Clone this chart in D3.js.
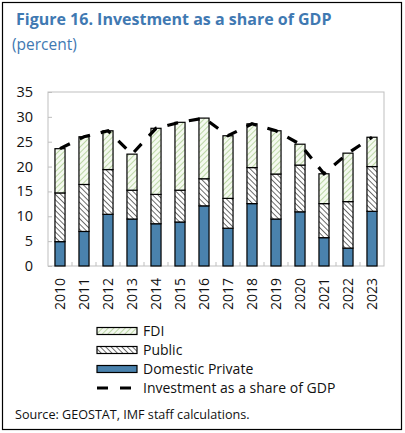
<!DOCTYPE html>
<html>
<head>
<meta charset="utf-8">
<script src="https://cdn.jsdelivr.net/npm/d3@7"></script>
<style>
body{margin:0;background:#fff;}
svg{font-family:"Open Sans","Noto Sans",sans-serif;}
</style>
</head>
<body>
<svg id="chart" width="405" height="433"></svg>
<script>
const years = ["2010","2011","2012","2013","2014","2015","2016","2017","2018","2019","2020","2021","2022","2023"];
const domestic = [4.9,6.95,10.4,9.45,8.5,8.85,12.1,7.6,12.55,9.45,10.9,5.7,3.6,11.0];
const publicInv = [9.8,9.45,9.0,5.8,5.9,6.4,5.45,6.0,7.25,9.05,9.4,6.85,9.35,9.0];
const fdi = [8.9,9.6,7.8,7.25,13.3,13.65,12.2,12.6,8.8,8.7,4.2,6.0,9.75,5.9];
const investment = [23.6,26.0,27.2,22.5,27.7,28.9,29.75,26.2,28.6,27.2,24.5,18.55,22.7,25.9];
const yTicks = [0,5,10,15,20,25,30,35];

const svg = d3.select("#chart");
const blue = "#3f79b2";

// outer frame
svg.append("rect").attr("x",2.5).attr("y",2.5).attr("width",399).attr("height",427)
  .attr("fill","none").attr("stroke","#000").attr("stroke-width",1.2);

svg.append("text").attr("x",16).attr("y",25).attr("fill",blue)
  .style("font-size","16px").style("font-weight","bold")
  .text("Figure 16. Investment as a share of GDP");
svg.append("text").attr("x",12).attr("y",50).attr("fill",blue)
  .style("font-size","15.5px").text("(percent)");

// patterns
const defs = svg.append("defs");
let pf = defs.append("pattern").attr("id","fdiPat").attr("patternUnits","userSpaceOnUse")
  .attr("width",4).attr("height",4).attr("patternTransform","rotate(45)");
pf.append("rect").attr("width",4).attr("height",4).attr("fill","#f4f9ef");
pf.append("line").attr("x1",0).attr("y1",0).attr("x2",0).attr("y2",4)
  .attr("stroke","#a9cc8e").attr("stroke-width",1.5);
let pp = defs.append("pattern").attr("id","pubPat").attr("patternUnits","userSpaceOnUse")
  .attr("width",3.8).attr("height",3.8).attr("patternTransform","rotate(-45)");
pp.append("rect").attr("width",3.8).attr("height",3.8).attr("fill","#fff");
pp.append("line").attr("x1",0).attr("y1",0).attr("x2",0).attr("y2",3.8)
  .attr("stroke","#222").attr("stroke-width",1.3);

const plotL=48, plotR=384, plotT=92, plotB=266;
const x = d3.scaleBand().domain(years).range([plotL,plotR]).paddingInner(0.58).paddingOuter(0.29);
const y = d3.scaleLinear().domain([0,35]).range([plotB,plotT]);

// plot frame
svg.append("rect").attr("x",plotL).attr("y",plotT).attr("width",plotR-plotL).attr("height",plotB-plotT)
  .attr("fill","none").attr("stroke","#bfbfbf").attr("stroke-width",1);

// y ticks
const yAxis = svg.append("g").attr("transform",`translate(${plotL},0)`)
  .call(d3.axisRight(y).tickValues(yTicks).tickSize(4).tickFormat(""));
yAxis.select(".domain").remove();
yAxis.selectAll("line").attr("stroke","#bfbfbf");
svg.selectAll(".ylab").data(yTicks).enter().append("text")
  .attr("x",33).attr("y",d=>y(d)+5).attr("text-anchor","end")
  .style("font-size","14.5px").attr("fill","#111").text(d=>d);

// x ticks between categories
const step = x.step();
svg.selectAll(".xt").data(d3.range(1,years.length)).enter().append("line")
  .attr("x1",d=>plotL+d*step).attr("x2",d=>plotL+d*step)
  .attr("y1",plotB).attr("y2",plotB-4).attr("stroke","#bfbfbf");

// stacked bars
const stackData = years.map((yr,i)=>({year:yr,domestic:domestic[i],pub:publicInv[i],fdi:fdi[i]}));
const stack = d3.stack().keys(["domestic","pub","fdi"])(stackData);
const fills = {domestic:"#4a82ad",pub:"url(#pubPat)",fdi:"url(#fdiPat)"};
stack.forEach(layer=>{
  svg.append("g").selectAll("rect").data(layer).enter().append("rect")
    .attr("x",d=>x(d.data.year)).attr("width",x.bandwidth())
    .attr("y",d=>y(d[1])).attr("height",d=>y(d[0])-y(d[1]))
    .attr("fill",fills[layer.key]).attr("stroke","#000").attr("stroke-width",1.2);
});

// line
const line = d3.line().x((d,i)=>x(years[i])+x.bandwidth()/2).y(d=>y(d));
svg.append("path").datum(investment).attr("d",line).attr("fill","none")
  .attr("stroke","#000").attr("stroke-width",3.2).attr("stroke-dasharray","11,11");

// x labels
svg.selectAll(".xlab").data(years).enter().append("text")
  .attr("transform",d=>`translate(${x(d)+x.bandwidth()/2+5},${278}) rotate(-90)`)
  .attr("text-anchor","end").style("font-size","14px").attr("fill","#111").text(d=>d);

// legend
const legend = [
  {label:"FDI",type:"rect",fill:"url(#fdiPat)",y:331},
  {label:"Public",type:"rect",fill:"url(#pubPat)",y:350},
  {label:"Domestic Private",type:"rect",fill:"#4a82ad",y:369},
  {label:"Investment as a share of GDP",type:"line",y:388}
];
const lg = svg.append("g");
legend.forEach(d=>{
  if(d.type==="rect"){
    lg.append("rect").attr("x",97).attr("y",d.y-3.5).attr("width",40).attr("height",7)
      .attr("fill",d.fill).attr("stroke","#000").attr("stroke-width",1.2);
  } else {
    lg.append("line").attr("x1",97).attr("x2",132).attr("y1",d.y).attr("y2",d.y)
      .attr("stroke","#000").attr("stroke-width",3.2).attr("stroke-dasharray","11,12");
  }
  lg.append("text").attr("x",143).attr("y",d.y+5).style("font-size","14px")
    .attr("fill","#111").text(d.label);
});

svg.append("text").attr("x",15).attr("y",419).style("font-size","12.6px")
  .attr("fill","#111").text("Source: GEOSTAT, IMF staff calculations.");
</script>
</body>
</html>
